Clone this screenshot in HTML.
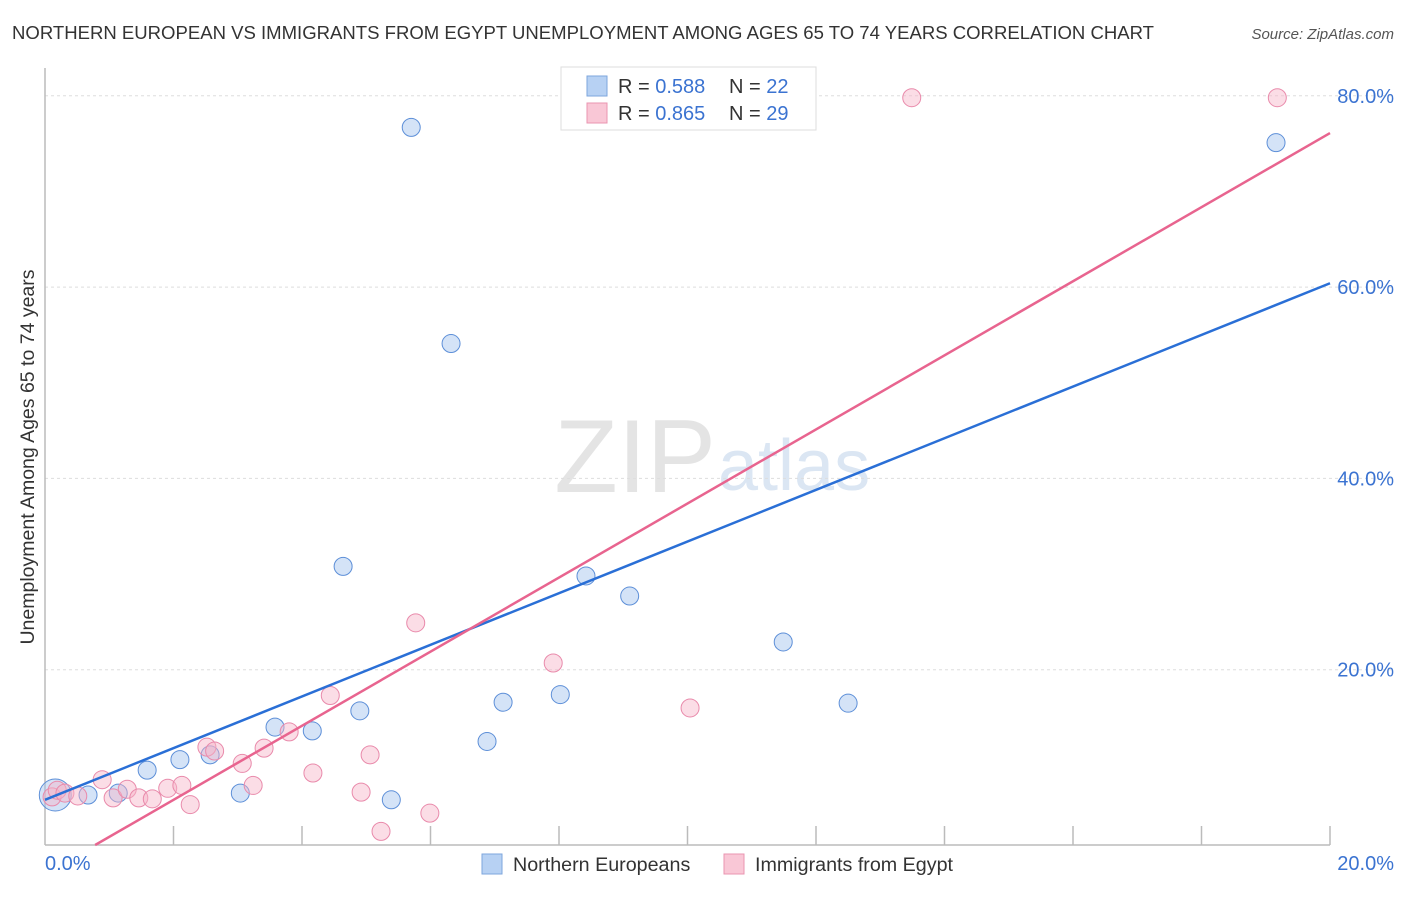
<!DOCTYPE html>
<html><head><meta charset="utf-8"><style>
body{margin:0;background:#fff;font-family:"Liberation Sans",sans-serif;}
svg text{font-family:"Liberation Sans",sans-serif;}
</style></head><body>
<svg width="1406" height="892" xmlns="http://www.w3.org/2000/svg">
<text x="12" y="39" font-size="18.5" fill="#333" textLength="1142" lengthAdjust="spacingAndGlyphs">NORTHERN EUROPEAN VS IMMIGRANTS FROM EGYPT UNEMPLOYMENT AMONG AGES 65 TO 74 YEARS CORRELATION CHART</text>
<text x="1394" y="39" font-size="15" fill="#555" text-anchor="end" font-style="italic">Source: ZipAtlas.com</text>
<text x="716" y="492" font-size="104" fill="#e4e4e4" text-anchor="end" font-family="Liberation Serif">ZIP</text>
<text x="718" y="490" font-size="72" fill="#dbe6f3">atlas</text>
<g id="grid"></g>
<line x1="45" y1="68" x2="45" y2="845" stroke="#bbb" stroke-width="1.5"/>
<line x1="45" y1="845" x2="1330" y2="845" stroke="#bbb" stroke-width="1.5"/>
<g id="ticks"></g>
<text x="45" y="870" font-size="20" fill="#3b73d1">0.0%</text>
<text x="1394" y="870" font-size="20" fill="#3b73d1" text-anchor="end">20.0%</text>
<text transform="translate(34,457) rotate(-90)" font-size="19.5" fill="#333" text-anchor="middle">Unemployment Among Ages 65 to 74 years</text>
<g id="pts"></g>
<g id="lines"></g>
<g>
<rect x="561" y="67" width="255" height="63" fill="#fff" stroke="#ddd"/>
<rect x="587" y="76" width="20" height="20" fill="#b7d1f3" stroke="#7ea6dd"/>
<rect x="587" y="103" width="20" height="20" fill="#f9c7d6" stroke="#ea94b0"/>
<text x="618" y="93" font-size="20" fill="#333">R = <tspan fill="#3b73d1">0.588</tspan><tspan x="729">N = </tspan><tspan fill="#3b73d1">22</tspan></text>
<text x="618" y="120" font-size="20" fill="#333">R = <tspan fill="#3b73d1">0.865</tspan><tspan x="729">N = </tspan><tspan fill="#3b73d1">29</tspan></text>
</g>
<g>
<rect x="482" y="854" width="20" height="20" fill="#b7d1f3" stroke="#7ea6dd"/>
<text x="513" y="871" font-size="19.7" fill="#333">Northern Europeans</text>
<rect x="724" y="854" width="20" height="20" fill="#f9c7d6" stroke="#ea94b0"/>
<text x="755" y="871" font-size="19.7" fill="#333">Immigrants from Egypt</text>
</g>
</svg>
<script>
const yTicks=[20,40,60,80];
const xTicks=[2,4,6,8,10,12,14,16,18,20];
const blueX=[0.16,0.67,1.14,1.59,2.1,2.57,3.04,3.58,4.16,4.64,4.9,5.39,5.7,6.32,6.88,7.13,8.02,8.42,9.1,11.49,12.5,19.16];
const blueY=[6.9,6.9,7.1,9.5,10.6,11.1,7.1,14.0,13.6,30.8,15.7,6.4,76.7,54.1,12.5,16.6,17.4,29.8,27.7,22.9,16.5,75.1];
const pinkX=[0.11,0.19,0.31,0.51,0.89,1.06,1.28,1.46,1.67,1.91,2.13,2.26,2.52,2.64,3.07,3.24,3.41,3.8,4.17,4.44,4.92,5.06,5.23,5.77,5.99,7.91,10.04,13.49,19.18];
const pinkY=[6.7,7.4,7.1,6.8,8.5,6.6,7.5,6.6,6.5,7.6,7.9,5.9,11.9,11.5,10.2,7.9,11.8,13.5,9.2,17.3,7.2,11.1,3.1,24.9,5.0,20.7,16.0,79.8,79.8];
const blueFit=[6.4,60.4];
const pinkFit=[-1.35,76.1];
const NS="http://www.w3.org/2000/svg";
const X=v=>45+v*64.25, Y=v=>861-v*9.565;
function mk(t,a,p){const e=document.createElementNS(NS,t);for(const k in a)e.setAttribute(k,a[k]);document.getElementById(p).appendChild(e);return e;}
yTicks.forEach(t=>{const l=mk('line',{x1:45,x2:1395,y1:Y(t),y2:Y(t),stroke:'#ddd','stroke-dasharray':'3,3'},'grid');


const tx=mk('text',{x:1394,y:Y(t)+7,'font-size':20,fill:'#3b73d1','text-anchor':'end'},'grid');tx.textContent=t.toFixed(1)+'%';

});
xTicks.forEach(t=>{const l=mk('line',{x1:X(t),x2:X(t),y1:826,y2:845,stroke:'#bbb','stroke-width':1.5},'ticks');

});
blueX.forEach((x,i)=>{const c=mk('circle',{cx:X(x),cy:Y(blueY[i]),r:i==0?16:9,fill:'rgba(160,194,238,0.45)',stroke:'#5d8fd8','stroke-width':1},'pts');

});
pinkX.forEach((x,i)=>{const c=mk('circle',{cx:X(x),cy:Y(pinkY[i]),r:9,fill:'rgba(246,180,200,0.45)',stroke:'#e98aab','stroke-width':1},'pts');

});
const b=mk('line',{x1:X(0),y1:Y(blueFit[0]),x2:X(20),y2:Y(blueFit[1]),stroke:'#2a6fd6','stroke-width':2.5},'lines');


const slope=(pinkFit[1]-pinkFit[0])/20, ybot=(861-845)/9.565, x0=(ybot-pinkFit[0])/slope;
const p=mk('line',{x1:X(x0),y1:Y(ybot),x2:X(20),y2:Y(pinkFit[1]),stroke:'#e8648f','stroke-width':2.5},'lines');


</script>
</body></html>
